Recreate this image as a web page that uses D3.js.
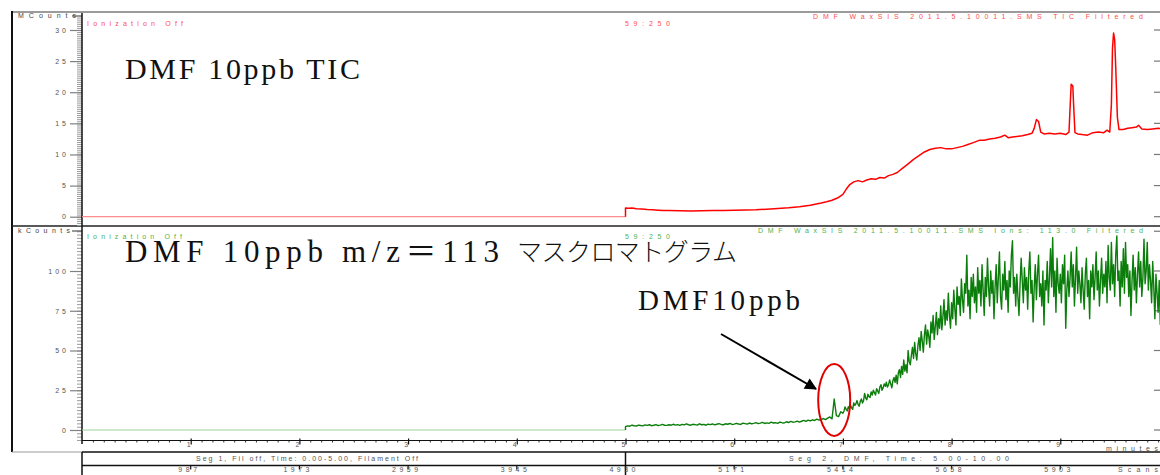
<!DOCTYPE html>
<html>
<head>
<meta charset="utf-8">
<script src="https://cdn.jsdelivr.net/npm/d3@7"></script>
<style>
  html, body { margin: 0; padding: 0; background: #fff; }
  svg { display: block; }
  .small { font-family: "Liberation Sans", Arial, sans-serif; font-size: 7px; }
  .big { font-family: "Liberation Serif", "Noto Sans CJK JP", serif; fill: #111; }
</style>
</head>
<body>
<svg id="chart" width="1160" height="475"></svg>
<script>
// ---- data ----------------------------------------------------------------
const minuteTicks = [1, 2, 3, 4, 5, 6, 7, 8, 9];
const scanLabels = ["987", "1973", "2959", "3945", "4930", "5171", "5414", "5658", "5903"];
const ticTicks = [0, 5, 10, 15, 20, 25, 30];
const ionTicks = [0, 25, 50, 75, 100];

// Filament off segment (0-5 min): flat zero signal
const offTimes = [0, 5];
const offValues = [0, 0];

// TIC trace, MCounts, segment 2 (5-10 min)
const ticTimes = [
  5.00, 5.00, 5.03, 5.06, 5.10, 5.15, 5.20, 5.25, 5.30, 5.35, 5.40, 5.50, 5.60, 5.70, 5.80, 5.90,
  6.00, 6.10, 6.20, 6.30, 6.40, 6.50, 6.60, 6.70, 6.80, 6.85, 6.90, 6.95,
  7.00, 7.03, 7.06, 7.10, 7.14, 7.18, 7.22, 7.26, 7.30, 7.34, 7.38, 7.42, 7.46, 7.50, 7.55, 7.60,
  7.65, 7.70, 7.75, 7.80, 7.85, 7.90, 7.95,
  8.00, 8.05, 8.10, 8.15, 8.20, 8.26, 8.30, 8.35, 8.40, 8.45, 8.49, 8.52, 8.56, 8.60, 8.65, 8.70,
  8.74, 8.76, 8.78, 8.80, 8.82, 8.85, 8.90, 8.95,
  9.00, 9.05, 9.08, 9.09, 9.10, 9.115, 9.125, 9.135, 9.16, 9.20, 9.25, 9.30, 9.35, 9.40, 9.43, 9.455,
  9.47, 9.48, 9.49, 9.50, 9.51, 9.525, 9.54, 9.58, 9.62, 9.66, 9.70, 9.72, 9.75, 9.80, 9.85, 9.90, 9.95
];
const ticValues = [
  0, 1.40, 1.35, 1.38, 1.28, 1.22, 1.15, 1.10, 1.05, 1.00, 0.98, 0.95, 0.93, 0.96, 0.98, 1.00,
  1.04, 1.08, 1.12, 1.20, 1.30, 1.42, 1.60, 1.85, 2.20, 2.40, 2.65, 3.00,
  3.60, 4.40, 5.10, 5.60, 5.80, 5.60, 5.90, 6.10, 6.00, 6.30, 6.20, 6.60, 6.80, 7.10, 7.80, 8.50,
  9.20, 9.80, 10.4, 10.8, 11.0, 11.1, 10.9,
  10.9, 11.1, 11.3, 11.6, 11.9, 12.3, 12.3, 12.5, 12.6, 12.8, 13.1, 12.7, 12.8, 12.9, 13.0, 13.2,
  13.4, 14.2, 15.6, 15.3, 13.6, 13.3, 13.4, 13.3,
  13.4, 13.2, 13.6, 17.5, 21.3, 21.0, 17.0, 13.5, 13.3, 13.2, 13.1, 13.5, 13.6, 13.5, 13.9, 13.6,
  18.0, 27.0, 29.5, 28.5, 24.0, 16.0, 14.0, 14.0, 14.2, 14.3, 14.4, 14.7, 14.1, 14.0, 14.1, 14.2, 14.1
];

// m/z 113 ion trace, kCounts.
// 5.00-6.98 min, one sample every 0.02 min
const ionEarlyStart = 5.0;
const ionEarlyStep = 0.02;
const ionEarly = [
  2.1, 2.6, 2.4, 3.0, 2.7, 2.5, 3.1, 2.8, 2.6, 3.2,
  2.9, 3.3, 2.7, 3.0, 3.4, 2.8, 3.1, 3.5, 3.0, 2.9,
  3.3, 3.0, 3.6, 3.1, 3.4, 2.9, 3.5, 3.2, 3.8, 3.3,
  3.0, 3.6, 3.4, 3.1, 3.9, 3.3, 3.5, 3.0, 3.7, 3.4,
  3.8, 3.2, 3.6, 4.0, 3.5, 3.3, 3.9, 3.6, 4.1, 3.5,
  3.7, 4.2, 3.8, 3.5, 4.3, 4.0, 3.7, 4.4, 3.9, 4.2,
  4.6, 4.0, 4.3, 4.8, 4.1, 4.5, 4.2, 4.9, 4.4, 4.6,
  4.2, 5.0, 4.6, 4.4, 5.2, 4.7, 5.4, 4.9, 5.1, 5.6,
  5.0, 5.5, 6.0, 5.4, 6.2, 5.7, 6.4, 6.0, 6.8, 6.2,
  6.6, 7.2, 6.5, 7.5, 8.2, 7.0, 19.5, 9.0, 8.4, 11.5
];
// 7.00-9.92 min, one sample every 0.01 min
const ionLateStart = 7.0;
const ionLateStep = 0.01;
const ionLate = [
  10.5, 12.0, 14.5, 13.0, 12.0, 14.7, 13.5, 15.5, 14.0, 13.0,
  17.0, 15.5, 16.5, 18.5, 16.0, 15.0, 18.0, 19.5, 17.0, 18.5,
  23.0, 20.0, 19.0, 22.5, 21.0, 20.5, 24.0, 22.0, 25.0, 23.5,
  22.0, 26.0, 24.5, 23.0, 27.0, 28.5, 25.0, 26.5, 29.0, 27.5,
  30.0, 27.0, 28.5, 31.5, 29.0, 26.5, 31.0, 33.0, 30.0, 34.5,
  29.0, 36.0, 38.0, 33.0, 40.0, 35.0, 44.0, 37.0, 41.0, 36.0,
  50.0, 43.0, 41.0, 47.0, 52.0, 45.0, 55.0, 48.0, 44.0, 53.0,
  58.0, 50.0, 62.0, 56.0, 49.0, 60.0, 66.0, 54.0, 63.0, 59.0,
  52.0, 68.0, 61.0, 72.0, 57.0, 65.0, 74.0, 60.0, 70.0, 64.0,
  78.0, 63.0, 71.0, 82.0, 66.0, 75.0, 69.0, 86.0, 72.0, 64.0,
  80.0, 70.0, 88.0, 76.0, 66.0, 90.0, 79.0, 84.0, 72.0, 95.0,
  82.0, 74.0, 92.0, 86.0, 110.0, 78.0, 88.0, 70.0, 96.0, 84.0,
  98.0, 80.0, 90.0, 74.0, 102.0, 86.0, 94.0, 78.0, 104.0, 88.0,
  72.0, 96.0, 84.0, 108.0, 90.0, 78.0, 100.0, 86.0, 94.0, 70.0,
  90.0, 104.0, 80.0, 96.0, 112.0, 84.0, 76.0, 98.0, 88.0, 106.0,
  82.0, 94.0, 74.0, 100.0, 90.0, 110.0, 119.0, 86.0, 96.0, 78.0,
  98.0, 84.0, 72.0, 92.0, 108.0, 94.0, 80.0, 102.0, 88.0, 96.0,
  76.0, 100.0, 112.0, 86.0, 94.0, 68.0, 90.0, 104.0, 82.0, 98.0,
  110.0, 84.0, 92.0, 78.0, 100.0, 66.0, 94.0, 88.0, 106.0, 80.0,
  96.0, 114.0, 90.0, 121.0, 84.0, 100.0, 74.0, 108.0, 92.0, 86.0,
  98.0, 80.0, 104.0, 92.0, 110.0, 64.0, 88.0, 100.0, 84.0, 96.0,
  112.0, 90.0, 104.0, 78.0, 96.0, 115.0, 86.0, 100.0, 92.0, 80.0,
  102.0, 88.0, 76.0, 98.0, 108.0, 84.0, 94.0, 70.0, 100.0, 90.0,
  104.0, 82.0, 96.0, 112.0, 88.0, 100.0, 78.0, 94.0, 108.0, 86.0,
  98.0, 90.0, 106.0, 80.0, 116.0, 96.0, 88.0, 118.0, 92.0, 104.0,
  84.0, 110.0, 122.0, 94.0, 100.0, 78.0, 106.0, 90.0, 114.0, 86.0,
  118.0, 96.0, 104.0, 84.0, 100.0, 72.0, 94.0, 110.0, 88.0, 102.0,
  80.0, 98.0, 112.0, 90.0, 106.0, 84.0, 96.0, 120.0, 92.0, 100.0,
  118.0, 88.0, 104.0, 94.0, 80.0, 106.0, 90.0, 70.0, 98.0, 86.0,
  74.0, 94.0, 66.0
];

// ---- layout --------------------------------------------------------------
const svg = d3.select("#chart");
const axisX = 82;

const x = d3.scaleLinear().domain([0, 10]).range([axisX, axisX + 1087]);
const yTop = d3.scaleLinear().domain([0, 30]).range([216.7, 30]);
const yBot = d3.scaleLinear().domain([0, 100]).range([430, 271]);

function hline(x1, x2, y, color, w) {
  svg.append("line").attr("x1", x1).attr("x2", x2).attr("y1", y).attr("y2", y)
    .attr("stroke", color).attr("stroke-width", w);
}
function vline(xp, y1, y2, color, w) {
  svg.append("line").attr("x1", xp).attr("x2", xp).attr("y1", y1).attr("y2", y2)
    .attr("stroke", color).attr("stroke-width", w);
}
function spaced(txt, x1, x2, yc, color) {
  return svg.append("text").attr("class", "small")
    .attr("x", x1).attr("y", yc).attr("dy", "0.35em")
    .attr("textLength", x2 - x1).attr("lengthAdjust", "spacing")
    .attr("fill", color).text(txt);
}

// frame
hline(12, 1160, 12, "#7a7a7a", 1.5);
vline(12, 11, 452, "#111", 2);
hline(12, 1160, 226, "#222", 1.5);
hline(12, axisX, 452, "#999", 1);

// segment / scan box
hline(axisX, 1160, 452, "#111", 1.5);
hline(axisX, 1160, 465.5, "#111", 1.5);
vline(axisX, 452, 475, "#111", 1.5);
vline(x(5), 452, 475, "#111", 1.5);

// ---- y axes --------------------------------------------------------------
function yAxis(scale, majors, minors) {
  const gMinor = svg.append("g").attr("transform", `translate(${axisX},0)`)
    .call(d3.axisLeft(scale).tickValues(minors).tickSize(5).tickFormat(""));
  gMinor.select(".domain").remove();
  gMinor.selectAll("line").attr("stroke", "#9a9a9a");

  const g = svg.append("g").attr("transform", `translate(${axisX},0)`)
    .call(d3.axisLeft(scale).tickValues(majors).tickSize(12).tickPadding(1));
  g.select(".domain").remove();
  g.selectAll("line").attr("stroke", "#808080").attr("stroke-width", 1.2);
  g.selectAll("text").attr("class", "small").attr("font-size", 6.5)
    .style("letter-spacing", "3px").attr("fill", "#555");

  // short mirrored ticks on the right edge
  majors.forEach(v => hline(1154, 1160, scale(v), "#777", 1.2));
}
const minorTop = d3.range(-4, 97).map(k => k / 3);
const minorBot = d3.range(-3, 61).map(k => k * 25 / 12);
yAxis(yTop, ticTicks, minorTop);
yAxis(yBot, ionTicks, minorBot);
hline(1154, 1160, yBot(125), "#777", 1.2);

// unit labels with their top ticks
hline(72, axisX, 16, "#555", 1.2);
spaced("MCounts", 18, 76, 16, "#444");
hline(72, axisX, 231, "#555", 1.2);
spaced("kCounts", 18, 70, 231, "#444");

// main vertical axis line
vline(axisX, 13, 444, "#111", 1.5);

// ---- x axis (minutes) ----------------------------------------------------
const xMinor = d3.range(1, 100).map(i => i / 10).filter(v => Math.abs(v - Math.round(v)) > 1e-6);
const gxm = svg.append("g").attr("transform", "translate(0,440.5)")
  .call(d3.axisBottom(x).tickValues(xMinor).tickSize(2).tickFormat(""));
gxm.select(".domain").remove();
gxm.selectAll("line").attr("stroke", "#333");

const gx = svg.append("g").attr("transform", "translate(0,440.5)")
  .call(d3.axisBottom(x).tickValues(minuteTicks).tickSize(4).tickPadding(0).tickFormat(d3.format("d")));
gx.select(".domain").remove();
gx.selectAll("line").attr("y1", -2).attr("stroke", "#111").attr("stroke-width", 1.2);
gx.selectAll("text").attr("class", "small").attr("font-size", 6.5)
  .attr("fill", "#555").attr("dx", -2.5).attr("dy", "0.3em");
hline(axisX, 1160, 440.5, "#111", 1.2);
spaced("minutes", 1106, 1158, 449, "#555");

// scan ticks and labels
minuteTicks.forEach((m, i) => {
  vline(x(m), 465.5, 469.5, "#111", 1.2);
  const t = scanLabels[i];
  const w = t.length * 7;
  spaced(t, x(m) - w / 2 - 2, x(m) + w / 2 - 4, 469.5, "#555");
});
spaced("Scans", 1118, 1158, 469.5, "#555");

// segment captions
spaced("Seg 1, Fil off, Time: 0.00-5.00, Filament Off", 196, 418, 458.5, "#555");
spaced("Seg 2, DMF, Time: 5.00-10.00", 789, 1009, 458.5, "#555");

// ---- panel headers -------------------------------------------------------
spaced("Ionization Off", 87, 183, 23.3, "#ff4d4d");
spaced("59:250", 625, 670, 23.3, "#ff4d4d");
spaced("DMF WaxSIS 2011.5.10011.SMS TIC Filtered", 813, 1143, 17, "#ff4d4d");

spaced("Ionization Off", 87, 182, 236.5, "#4db34d");
spaced("59:250", 625, 670, 236.5, "#4db34d");
spaced("DMF WaxSIS 2011.5.10011.SMS Ions: 113.0 Filtered", 758, 1143, 231, "#4db34d");

// ---- traces --------------------------------------------------------------
const lineTop = d3.line().x(d => x(d[0])).y(d => yTop(d[1]));
const lineBot = d3.line().x(d => x(d[0])).y(d => yBot(d[1]));

svg.append("path").datum(d3.zip(offTimes, offValues)).attr("d", lineTop)
  .attr("fill", "none").attr("stroke", "#ff8c8c").attr("stroke-width", 1.2);
svg.append("path").datum(d3.zip(ticTimes, ticValues)).attr("d", lineTop)
  .attr("fill", "none").attr("stroke", "#ff0000").attr("stroke-width", 1.5)
  .attr("stroke-linejoin", "round");

svg.append("path").datum(d3.zip(offTimes, offValues)).attr("d", lineBot)
  .attr("fill", "none").attr("stroke", "#9bd39b").attr("stroke-width", 1.2);
const ionPoints = [[ionEarlyStart, 0]]
  .concat(ionEarly.map((v, i) => [ionEarlyStart + i * ionEarlyStep, v]))
  .concat(ionLate.map((v, i) => [ionLateStart + i * ionLateStep, v]));
svg.append("path").datum(ionPoints).attr("d", lineBot)
  .attr("fill", "none").attr("stroke", "#0a7d0a").attr("stroke-width", 1.4)
  .attr("stroke-linejoin", "round");

// ---- annotations ---------------------------------------------------------
svg.append("text").attr("class", "big").attr("font-size", 30)
  .attr("x", 125).attr("y", 79).attr("textLength", 235).attr("lengthAdjust", "spacing")
  .text("DMF 10ppb TIC");
svg.append("text").attr("class", "big").attr("font-size", 31)
  .attr("x", 125).attr("y", 262).attr("textLength", 374).attr("lengthAdjust", "spacing")
  .text("DMF 10ppb m/z＝113");
svg.append("text").attr("class", "big").attr("font-size", 25)
  .attr("x", 517).attr("y", 261).attr("textLength", 220).attr("lengthAdjust", "spacing")
  .style("font-family", "'Noto Sans CJK JP', sans-serif").attr("font-weight", 300)
  .text("マスクロマトグラム");
svg.append("text").attr("class", "big").attr("font-size", 29)
  .attr("x", 638).attr("y", 310).attr("textLength", 162).attr("lengthAdjust", "spacing")
  .text("DMF10ppb");

// arrow to the DMF peak
svg.append("defs").append("marker").attr("id", "head")
  .attr("viewBox", "0 0 10 10").attr("refX", 9).attr("refY", 5)
  .attr("markerWidth", 7).attr("markerHeight", 6).attr("orient", "auto")
  .attr("markerUnits", "strokeWidth")
  .append("path").attr("d", "M0,0 L10,5 L0,10 Z").attr("fill", "#000");
svg.append("line").attr("x1", 721).attr("y1", 334).attr("x2", 816).attr("y2", 389)
  .attr("stroke", "#000").attr("stroke-width", 2).attr("marker-end", "url(#head)");

// circle around the peak
svg.append("ellipse").attr("cx", x(6.92)).attr("cy", 400).attr("rx", 16).attr("ry", 36)
  .attr("fill", "none").attr("stroke", "#e00000").attr("stroke-width", 2);
</script>
</body>
</html>
